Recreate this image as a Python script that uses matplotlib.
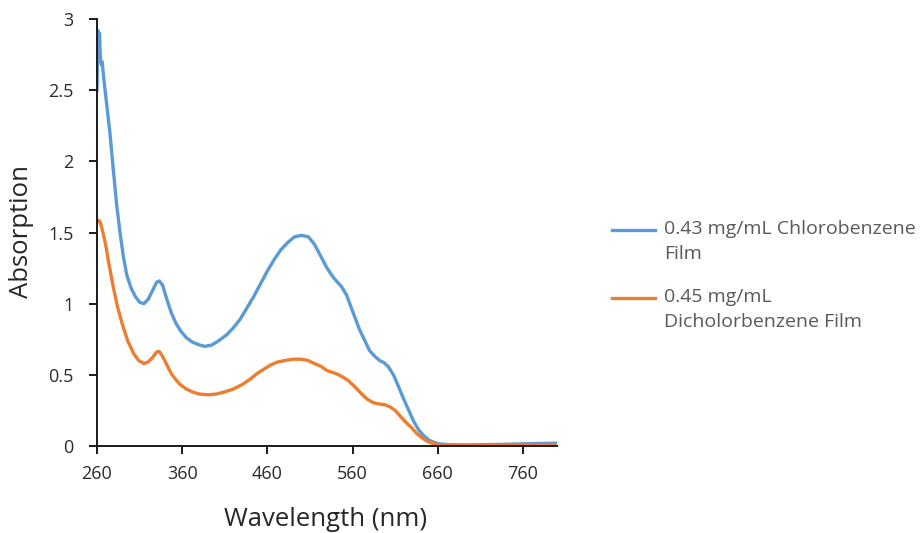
import matplotlib
matplotlib.use("Agg")
import matplotlib.pyplot as plt
from matplotlib.lines import Line2D

# ---- data ----
wl_cb = [260, 261, 262, 263, 264, 265, 266, 268, 271, 275, 279, 283, 287, 291, 295,
         300, 305, 310, 315, 320, 325, 330, 333, 337, 342, 347, 352, 358, 365, 372,
         380, 387, 395, 403, 412, 420, 428, 436, 444, 452, 460, 468, 476, 484, 492,
         500, 508, 515, 523, 530, 538, 547, 553, 558, 563, 568, 574, 580, 586, 592,
         597, 602, 608, 614, 620, 626, 632, 638, 644, 650, 656, 662, 670, 680, 700,
         720, 740, 760, 780, 800]
abs_cb = [2.50, 2.92, 2.86, 2.90, 2.72, 2.68, 2.70, 2.58, 2.42, 2.21, 1.95, 1.70, 1.50, 1.33, 1.20,
          1.11, 1.05, 1.01, 1.00, 1.03, 1.09, 1.15, 1.16, 1.13, 1.03, 0.94, 0.87, 0.81, 0.76, 0.73,
          0.71, 0.70, 0.71, 0.74, 0.78, 0.83, 0.89, 0.97, 1.05, 1.14, 1.23, 1.31, 1.38, 1.43, 1.47,
          1.48, 1.47, 1.42, 1.33, 1.25, 1.18, 1.12, 1.06, 0.98, 0.90, 0.82, 0.745, 0.67, 0.63, 0.60,
          0.585, 0.557, 0.50, 0.417, 0.33, 0.25, 0.17, 0.11, 0.07, 0.04, 0.025, 0.015, 0.01, 0.008, 0.008,
          0.01, 0.012, 0.015, 0.018, 0.02]

wl_dcb = [260, 262, 264, 267, 270, 274, 279, 284, 290, 296, 303, 309, 315, 320, 325,
          330, 333, 337, 342, 347, 352, 358, 365, 372, 380, 390, 400, 410, 420, 430,
          440, 448, 456, 464, 472, 480, 490, 500, 508, 515, 523, 530, 540, 547, 555,
          562, 570, 577, 584, 591, 598, 604, 610, 616, 622, 629, 635, 641, 647, 653,
          660, 670, 700, 750, 800]
abs_dcb = [1.57, 1.585, 1.57, 1.50, 1.42, 1.28, 1.12, 0.98, 0.85, 0.74, 0.65, 0.60, 0.58, 0.59, 0.62,
           0.66, 0.665, 0.63, 0.57, 0.51, 0.47, 0.43, 0.40, 0.38, 0.365, 0.36, 0.365, 0.38, 0.40, 0.43,
           0.47, 0.51, 0.54, 0.57, 0.59, 0.60, 0.61, 0.61, 0.60, 0.58, 0.56, 0.53, 0.51, 0.49, 0.46,
           0.42, 0.37, 0.33, 0.305, 0.295, 0.29, 0.275, 0.25, 0.21, 0.17, 0.13, 0.09, 0.06, 0.035, 0.02,
           0.01, 0.005, 0.003, 0.004, 0.005]

labels = ["0.43 mg/mL Chlorobenzene\nFilm", "0.45 mg/mL\nDicholorbenzene Film"]
colors = ["#5B9BD5", "#ED7D31"]
xticks = [260, 360, 460, 560, 660, 760]
yticks = [0, 0.5, 1, 1.5, 2, 2.5, 3]
ytick_labels = ["0", "0.5", "1", "1.5", "2", "2.5", "3"]

plt.rcParams['font.family'] = ['Open Sans', 'DejaVu Sans']

fig = plt.figure(figsize=(9.24, 5.33), dpi=100)
ax = fig.add_axes([97/924, 1-446/533, 460/924, 427/533])

ax.plot(wl_cb, abs_cb, color=colors[0], lw=2.4, solid_joinstyle='round')
ax.plot(wl_dcb, abs_dcb, color=colors[1], lw=2.4, solid_joinstyle='round')

ax.set_xlim(260, 800)
ax.set_ylim(0, 3)
ax.set_xticks(xticks)
ax.set_yticks(yticks)
ax.set_yticklabels(ytick_labels)
for s in ['top', 'right']:
    ax.spines[s].set_visible(False)
for s in ['left', 'bottom']:
    ax.spines[s].set_color('#1a1a1a')
    ax.spines[s].set_linewidth(1.4)
ax.tick_params(axis='both', direction='out', length=6, width=1.4, color='#1a1a1a',
               labelsize=13, labelcolor='#2b2b2b')
ax.tick_params(axis='x', pad=8)
ax.tick_params(axis='y', pad=11)
ax.set_xlabel("Wavelength (nm)", fontsize=18.5, color='#262626')
ax.set_ylabel("Absorption", fontsize=18.5, color='#262626')
ax.xaxis.set_label_coords((326 - 97) / 460, (446 - 520) / 427)
ax.xaxis.label.set_va('center')
ax.yaxis.set_label_coords((22 - 97) / 460, (446 - 232) / 427)
ax.yaxis.label.set_va('center')

# legend drawn manually (handle aligned with first text line, as in the reference)
leg_y = [230, 298]
for lab, col, y in zip(labels, colors, leg_y):
    fy = 1 - y/533
    fig.add_artist(Line2D([612/924, 655/924], [fy, fy], color=col, lw=2.4,
                          transform=fig.transFigure))
    fig.text(664/924, fy + 10/533, lab, fontsize=14, color='#595959', va='top',
             ha='left', linespacing=1.5, transform=fig.transFigure)

fig.savefig("out.png", dpi=100)
